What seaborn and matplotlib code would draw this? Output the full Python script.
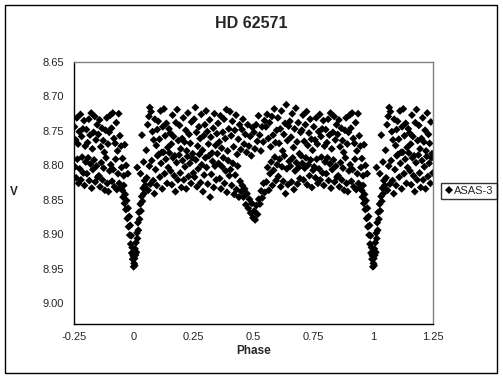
import numpy as np
import pandas as pd
import matplotlib
matplotlib.use("Agg")
import matplotlib.pyplot as plt
import seaborn as sns
from matplotlib.patches import Rectangle

# --- ASAS-3 light curve, phase in [0, 1) (read off the chart) ---
# primary eclipse egress
phase_ecl1 = [0.001, 0.003, 0.005, 0.004, 0.007, 0.009, 0.011, 0.013, 0.015, 0.017,
              0.019, 0.021, 0.024, 0.027, 0.030, 0.033, 0.036, 0.039, 0.042, 0.045,
              0.048, 0.014, 0.034, 0.028, 0.041]
v_ecl1 = [8.942, 8.935, 8.921, 8.945, 8.930, 8.912, 8.926, 8.898, 8.906, 8.883,
          8.894, 8.868, 8.878, 8.856, 8.866, 8.845, 8.852, 8.833, 8.841, 8.822,
          8.829, 8.803, 8.756, 8.812, 8.795]

# primary eclipse ingress
phase_ecl2 = [0.952, 0.955, 0.958, 0.961, 0.964, 0.967, 0.970, 0.973, 0.976, 0.978,
              0.981, 0.983, 0.985, 0.987, 0.989, 0.991, 0.993, 0.995, 0.997, 0.999,
              0.953, 0.958, 0.962, 0.968, 0.975]
v_ecl2 = [8.836, 8.846, 8.829, 8.855, 8.842, 8.864, 8.851, 8.877, 8.862, 8.889,
          8.874, 8.901, 8.887, 8.914, 8.902, 8.927, 8.919, 8.936, 8.931, 8.947,
          8.790, 8.815, 8.770, 8.800, 8.812]

# out of eclipse, brighter band
phase_hi = [0.052, 0.058, 0.063, 0.067, 0.072, 0.078, 0.083, 0.088, 0.094, 0.098,
            0.102, 0.107, 0.112, 0.117, 0.121, 0.126, 0.131, 0.136, 0.142, 0.147,
            0.152, 0.157, 0.162, 0.166, 0.171, 0.176, 0.181, 0.186, 0.191, 0.196,
            0.202, 0.207, 0.212, 0.217, 0.221, 0.226, 0.231, 0.236, 0.241, 0.246,
            0.252, 0.257, 0.262, 0.267, 0.272, 0.277, 0.282, 0.287, 0.292, 0.297,
            0.302, 0.307, 0.312, 0.317, 0.322, 0.327, 0.332, 0.337, 0.342, 0.347,
            0.352, 0.357, 0.362, 0.367, 0.372, 0.377, 0.382, 0.387, 0.392, 0.397,
            0.402, 0.407, 0.412, 0.417, 0.422, 0.427, 0.432, 0.437, 0.442, 0.447,
            0.452, 0.456, 0.461, 0.466, 0.471, 0.476, 0.481, 0.486, 0.491, 0.496,
            0.502, 0.506, 0.511, 0.516, 0.521, 0.526, 0.531, 0.536, 0.541, 0.546,
            0.552, 0.557, 0.562, 0.567, 0.572, 0.577, 0.582, 0.587, 0.592, 0.597,
            0.602, 0.607, 0.612, 0.617, 0.622, 0.627, 0.632, 0.637, 0.642, 0.647,
            0.652, 0.657, 0.662, 0.667, 0.672, 0.677, 0.682, 0.687, 0.692, 0.697,
            0.702, 0.707, 0.712, 0.717, 0.722, 0.727, 0.732, 0.737, 0.742, 0.747,
            0.752, 0.757, 0.762, 0.767, 0.772, 0.777, 0.782, 0.787, 0.792, 0.797,
            0.802, 0.807, 0.812, 0.817, 0.822, 0.827, 0.832, 0.837, 0.842, 0.847,
            0.852, 0.857, 0.862, 0.867, 0.872, 0.877, 0.882, 0.887, 0.892, 0.897,
            0.902, 0.907, 0.912, 0.917, 0.922, 0.927, 0.932, 0.937, 0.942, 0.947]
v_hi = [8.778, 8.741, 8.729, 8.716, 8.722, 8.751, 8.763, 8.733, 8.771, 8.748,
        8.736, 8.762, 8.721, 8.781, 8.744, 8.718, 8.757, 8.739, 8.774, 8.747,
        8.753, 8.769, 8.727, 8.758, 8.786, 8.738, 8.719, 8.764, 8.742, 8.776,
        8.761, 8.731, 8.766, 8.749, 8.779, 8.724, 8.755, 8.768, 8.737, 8.783,
        8.733, 8.716, 8.752, 8.772, 8.744, 8.761, 8.726, 8.778, 8.757, 8.741,
        8.721, 8.751, 8.769, 8.734, 8.759, 8.782, 8.746, 8.725, 8.771, 8.754,
        8.739, 8.766, 8.728, 8.775, 8.752, 8.733, 8.761, 8.719, 8.779, 8.747,
        8.722, 8.757, 8.736, 8.773, 8.749, 8.727, 8.784, 8.762, 8.741, 8.777,
        8.748, 8.733, 8.769, 8.755, 8.781, 8.741, 8.772, 8.758, 8.786, 8.745,
        8.752, 8.776, 8.741, 8.765, 8.728, 8.756, 8.779, 8.744, 8.766, 8.735,
        8.744, 8.726, 8.761, 8.738, 8.773, 8.729, 8.756, 8.718, 8.767, 8.749,
        8.731, 8.768, 8.747, 8.721, 8.779, 8.755, 8.739, 8.712, 8.764, 8.743,
        8.736, 8.759, 8.725, 8.774, 8.747, 8.717, 8.766, 8.738, 8.783, 8.752,
        8.749, 8.727, 8.765, 8.741, 8.722, 8.771, 8.753, 8.733, 8.762, 8.778,
        8.744, 8.763, 8.731, 8.769, 8.751, 8.726, 8.758, 8.747, 8.735, 8.772,
        8.748, 8.767, 8.733, 8.756, 8.724, 8.776, 8.752, 8.729, 8.763, 8.741,
        8.755, 8.734, 8.773, 8.746, 8.764, 8.781, 8.749, 8.731, 8.769, 8.752,
        8.727, 8.746, 8.724, 8.761, 8.768, 8.738, 8.779, 8.725, 8.757, 8.772]

# out of eclipse, fainter band
phase_lo = [0.054, 0.060, 0.065, 0.070, 0.075, 0.081, 0.086, 0.091, 0.096, 0.099,
            0.104, 0.109, 0.114, 0.119, 0.124, 0.129, 0.134, 0.139, 0.144, 0.149,
            0.154, 0.159, 0.164, 0.169, 0.174, 0.179, 0.184, 0.189, 0.194, 0.199,
            0.204, 0.209, 0.214, 0.219, 0.224, 0.229, 0.234, 0.239, 0.244, 0.249,
            0.254, 0.259, 0.264, 0.269, 0.274, 0.279, 0.284, 0.289, 0.294, 0.299,
            0.304, 0.309, 0.314, 0.319, 0.324, 0.329, 0.334, 0.339, 0.344, 0.349,
            0.354, 0.359, 0.364, 0.369, 0.374, 0.379, 0.384, 0.389, 0.394, 0.399,
            0.404, 0.409, 0.414, 0.419, 0.424, 0.429, 0.434, 0.439, 0.444, 0.449,
            0.453, 0.458, 0.463, 0.468, 0.473, 0.478, 0.483, 0.488, 0.493, 0.498,
            0.503, 0.507, 0.512, 0.517, 0.522, 0.527, 0.532, 0.537, 0.542, 0.547,
            0.554, 0.559, 0.564, 0.569, 0.574, 0.579, 0.584, 0.589, 0.594, 0.599,
            0.604, 0.609, 0.614, 0.619, 0.624, 0.629, 0.634, 0.639, 0.644, 0.649,
            0.654, 0.659, 0.664, 0.669, 0.674, 0.679, 0.684, 0.689, 0.694, 0.699,
            0.704, 0.709, 0.714, 0.719, 0.724, 0.729, 0.734, 0.739, 0.744, 0.749,
            0.754, 0.759, 0.764, 0.769, 0.774, 0.779, 0.784, 0.789, 0.794, 0.799,
            0.804, 0.809, 0.814, 0.819, 0.824, 0.829, 0.834, 0.839, 0.844, 0.849,
            0.854, 0.859, 0.864, 0.869, 0.874, 0.879, 0.884, 0.889, 0.894, 0.899,
            0.904, 0.909, 0.914, 0.919, 0.924, 0.929, 0.934, 0.939, 0.944, 0.949]
v_lo = [8.818, 8.836, 8.801, 8.827, 8.793, 8.822, 8.841, 8.806, 8.829, 8.786,
        8.784, 8.817, 8.797, 8.834, 8.781, 8.812, 8.791, 8.826, 8.803, 8.782,
        8.808, 8.828, 8.789, 8.815, 8.838, 8.796, 8.821, 8.785, 8.811, 8.832,
        8.793, 8.821, 8.802, 8.834, 8.787, 8.816, 8.797, 8.826, 8.789, 8.811,
        8.817, 8.792, 8.831, 8.805, 8.784, 8.825, 8.799, 8.838, 8.814, 8.789,
        8.803, 8.827, 8.786, 8.846, 8.813, 8.794, 8.832, 8.801, 8.821, 8.783,
        8.797, 8.819, 8.834, 8.802, 8.789, 8.826, 8.808, 8.839, 8.793, 8.815,
        8.806, 8.829, 8.797, 8.842, 8.814, 8.835, 8.801, 8.846, 8.823, 8.838,
        8.829, 8.846, 8.834, 8.857, 8.841, 8.862, 8.849, 8.869, 8.855, 8.876,
        8.866, 8.879, 8.858, 8.871, 8.849, 8.856, 8.837, 8.847, 8.826, 8.839,
        8.824, 8.803, 8.836, 8.812, 8.795, 8.829, 8.807, 8.788, 8.822, 8.799,
        8.816, 8.791, 8.831, 8.802, 8.823, 8.786, 8.841, 8.805, 8.828, 8.794,
        8.801, 8.824, 8.789, 8.835, 8.808, 8.796, 8.827, 8.803, 8.819, 8.786,
        8.797, 8.821, 8.804, 8.789, 8.828, 8.799, 8.815, 8.792, 8.832, 8.807,
        8.802, 8.818, 8.791, 8.826, 8.805, 8.821, 8.788, 8.811, 8.829, 8.795,
        8.812, 8.789, 8.822, 8.798, 8.833, 8.806, 8.792, 8.824, 8.801, 8.817,
        8.815, 8.831, 8.796, 8.821, 8.804, 8.836, 8.789, 8.826, 8.838, 8.808,
        8.799, 8.823, 8.806, 8.831, 8.791, 8.835, 8.812, 8.826, 8.833, 8.803]

x_ticks = [-0.25, 0, 0.25, 0.5, 0.75, 1, 1.25]
x_labels = ["-0.25", "0", "0.25", "0.5", "0.75", "1", "1.25"]
y_ticks = [8.65, 8.70, 8.75, 8.80, 8.85, 8.90, 8.95, 9.00]

base = pd.DataFrame({
    "phase": phase_ecl1 + phase_ecl2 + phase_hi + phase_lo,
    "V": v_ecl1 + v_ecl2 + v_hi + v_lo,
})
# plotted range -0.25..1.25: repeat the ends of the cycle
df = pd.concat([
    base,
    base[base.phase >= 0.75].assign(phase=lambda d: d.phase - 1),
    base[base.phase <= 0.25].assign(phase=lambda d: d.phase + 1),
], ignore_index=True)
df["series"] = "ASAS-3"

sns.set_style("white")
plt.rcParams["font.family"] = ["Liberation Sans", "DejaVu Sans"]

fig = plt.figure(figsize=(5.03, 3.79), dpi=100)
ax = fig.add_axes([74 / 503, 1 - 324 / 379, (433 - 74) / 503, (324 - 62) / 379])

sns.scatterplot(data=df, x="phase", y="V", hue="series", palette=["black"],
                marker="D", s=16, linewidth=0, ax=ax)

ax.set_xlim(-0.25, 1.25)
ax.set_ylim(9.03, 8.65)
ax.set_xticks(x_ticks)
ax.set_xticklabels(x_labels)
ax.set_yticks(y_ticks)
ax.set_yticklabels([f"{t:.2f}" for t in y_ticks])
ax.tick_params(axis="both", direction="inout", length=6, width=1, color="black",
               labelsize=8, pad=3)
ax.tick_params(axis="y", pad=4)
for side in ["left", "bottom"]:
    ax.spines[side].set_color("black")
    ax.spines[side].set_linewidth(1)
for side in ["top", "right"]:
    ax.spines[side].set_color("#808080")
    ax.spines[side].set_linewidth(1)

ax.set_xlabel("Phase", fontsize=8.5, fontweight="bold", labelpad=2)
ax.set_ylabel("")
fig.text(14 / 503, 1 - 192 / 379, "V", fontsize=8.5, fontweight="bold",
         ha="center", va="center")
fig.text(0.5, 1 - 24 / 379, "HD 62571", fontsize=11.5, fontweight="bold",
         ha="center", va="center")

leg = ax.legend(loc="center left", bbox_to_anchor=(441 / 503, 1 - 191 / 379),
                bbox_transform=fig.transFigure, frameon=True, fancybox=False,
                fontsize=8, handletextpad=0.1, handlelength=0.8,
                borderpad=0.3, borderaxespad=0, markerscale=0.9)
leg.get_frame().set_edgecolor("black")
leg.get_frame().set_linewidth(1)

# outer chart border
fig.patches.append(Rectangle((5 / 503, 6 / 379), 492 / 503, 368 / 379,
                             transform=fig.transFigure, fill=False,
                             edgecolor="black", linewidth=1))

fig.savefig("out.png", dpi=100)
